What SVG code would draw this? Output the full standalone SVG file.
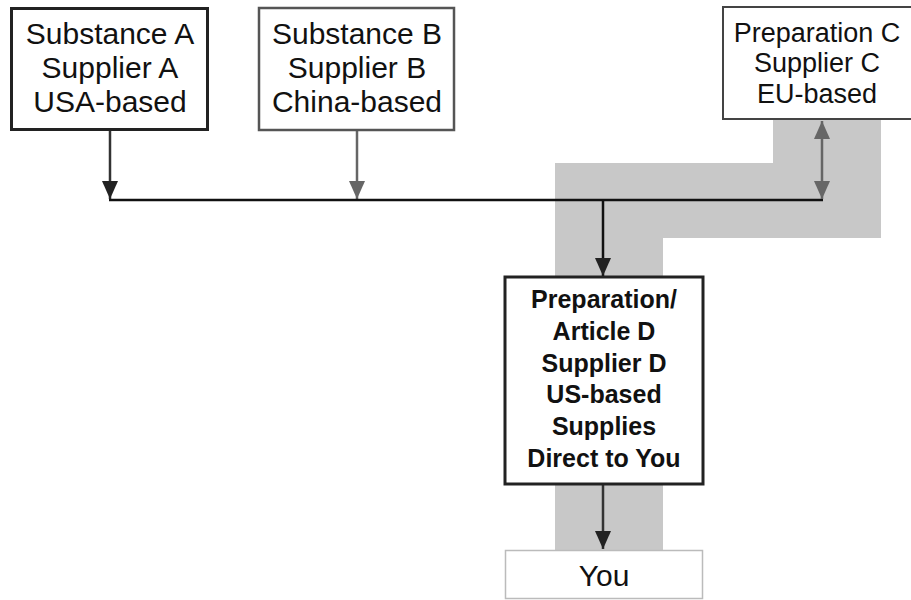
<svg xmlns="http://www.w3.org/2000/svg" width="911" height="600" viewBox="0 0 911 600">
<style>
.t{font-family:"Liberation Sans",Arial,sans-serif;fill:#111;text-anchor:middle}
.n{font-size:30px}
.c{font-size:27px}
.d{font-size:25px;font-weight:bold}
.box{fill:#fff}
.ln{fill:none;stroke-width:2.5}
</style>
<defs>
<marker id="ag" markerWidth="16" markerHeight="18" refX="8" refY="18" orient="0" markerUnits="userSpaceOnUse"><path d="M0,0 L16,0 L8,18 Z" fill="#666"/></marker>
<marker id="akd" markerWidth="16" markerHeight="18" refX="8" refY="18" orient="0" markerUnits="userSpaceOnUse"><path d="M0,0 L16,0 L8,18 Z" fill="#222"/></marker>
<marker id="agu" markerWidth="16" markerHeight="18" refX="8" refY="0" orient="0" markerUnits="userSpaceOnUse"><path d="M0,18 L16,18 L8,0 Z" fill="#666"/></marker>
</defs>
<rect width="911" height="600" fill="#fff"/>
<path id="band" d="M773,119 H881 V238 H663 V550 H555 V163 H773 Z" fill="#c8c8c8"/>
<g id="connectors">
<line class="ln" x1="110" y1="131" x2="110" y2="199" stroke="#333" marker-end="url(#akd)"/>
<line class="ln" x1="357" y1="131" x2="357" y2="199" stroke="#666" marker-end="url(#ag)"/>
<line class="ln" x1="109" y1="200" x2="823" y2="200" stroke="#111"/>
<line class="ln" x1="822" y1="121" x2="822" y2="199" stroke="#666" marker-start="url(#agu)" marker-end="url(#ag)"/>
<line class="ln" x1="603" y1="200" x2="603" y2="276" stroke="#111" marker-end="url(#akd)"/>
<line class="ln" x1="603" y1="485" x2="603" y2="549" stroke="#333" marker-end="url(#akd)"/>
</g>
<g id="nodeA">
<rect class="box" x="11.5" y="8.5" width="196" height="121" stroke="#222" stroke-width="3"/>
<text class="t n" x="110" y="44">Substance A</text>
<text class="t n" x="110" y="78">Supplier A</text>
<text class="t n" x="110" y="112">USA-based</text>
</g>
<g id="nodeB">
<rect class="box" x="259" y="8" width="195" height="122" stroke="#555" stroke-width="2.5"/>
<text class="t n" x="357" y="44">Substance B</text>
<text class="t n" x="357" y="78">Supplier B</text>
<text class="t n" x="357" y="112">China-based</text>
</g>
<g id="nodeC">
<rect class="box" x="723" y="7" width="194" height="112" stroke="#444" stroke-width="2"/>
<text class="t c" x="817" y="42">Preparation C</text>
<text class="t c" x="817" y="72">Supplier C</text>
<text class="t c" x="817" y="103">EU-based</text>
</g>
<g id="nodeD">
<rect class="box" x="505" y="277" width="198" height="207" stroke="#222" stroke-width="3"/>
<text class="t d" x="604" y="308">Preparation/</text>
<text class="t d" x="604" y="340">Article D</text>
<text class="t d" x="604" y="372">Supplier D</text>
<text class="t d" x="604" y="403">US-based</text>
<text class="t d" x="604" y="435">Supplies</text>
<text class="t d" x="604" y="467">Direct to You</text>
</g>
<g id="nodeYou">
<rect class="box" x="505.5" y="550.5" width="197" height="48" stroke="#bbb" stroke-width="1.5"/>
<text class="t n" x="604" y="586">You</text>
</g>
</svg>
